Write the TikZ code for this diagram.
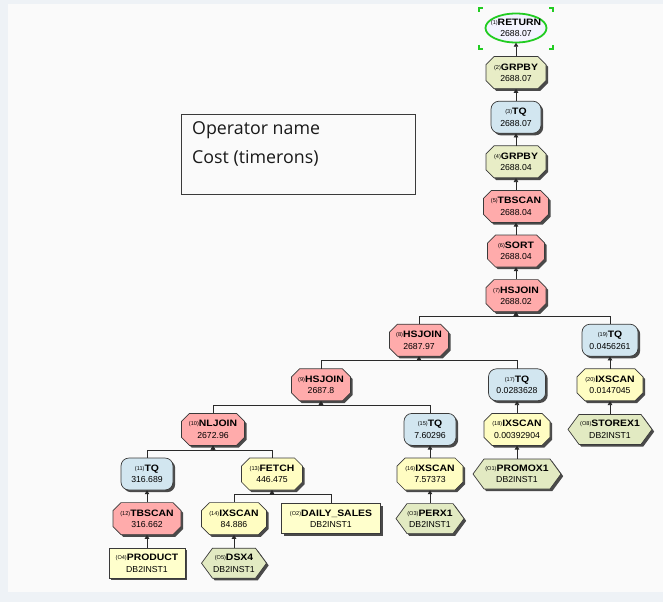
\documentclass[tikz,border=0pt]{standalone}
\usepackage{fontspec}
\usetikzlibrary{arrows.meta}
\newfontfamily\opfam[FakeStretch=1.12]{Liberation Sans}
\newfontfamily\valfam{Liberation Sans}
\newfontfamily\legfam{Open Sans}

\definecolor{pagebg}{HTML}{EEF2F6}
\definecolor{canvas}{HTML}{FAFAFA}
\definecolor{edge}{HTML}{3A3A3A}
\definecolor{shadowc}{HTML}{4A4A4A}
\definecolor{joinfill}{HTML}{FFABAB}
\definecolor{tqfill}{HTML}{D2E6F0}
\definecolor{grpfill}{HTML}{E8EDC6}
\definecolor{scanfill}{HTML}{FFFDC2}
\definecolor{idxfill}{HTML}{E2EAC2}
\definecolor{tblfill}{HTML}{FFFFCC}
\definecolor{retfill}{HTML}{F3F3FF}
\definecolor{selgreen}{HTML}{22CC22}
\definecolor{wire}{HTML}{2A2A2A}

% outlines: options, centre x, centre y, width, height
\newcommand\octshape[5]{\path[#1]
  ({#2-#4/2+8},{#3-#5/2}) -- ({#2+#4/2-8},{#3-#5/2}) -- ({#2+#4/2},{#3-#5/2+8})
  -- ({#2+#4/2},{#3+#5/2-8}) -- ({#2+#4/2-8},{#3+#5/2}) -- ({#2-#4/2+8},{#3+#5/2})
  -- ({#2-#4/2},{#3+#5/2-8}) -- ({#2-#4/2},{#3-#5/2+8}) -- cycle;}
\newcommand\hexshape[5]{\path[#1]
  ({#2-#4/2},{#3}) -- ({#2-#4/2+11},{#3-#5/2}) -- ({#2+#4/2-11},{#3-#5/2})
  -- ({#2+#4/2},{#3}) -- ({#2+#4/2-11},{#3+#5/2}) -- ({#2-#4/2+11},{#3+#5/2}) -- cycle;}
\newcommand\tqshape[5]{\path[#1,rounded corners=8pt]
  ({#2-#4/2},{#3-#5/2}) rectangle ({#2+#4/2},{#3+#5/2});}
\newcommand\tblshape[5]{\path[#1]
  ({#2-#4/2},{#3-#5/2}) rectangle ({#2+#4/2},{#3+#5/2});}

\newcommand\opnum[1]{\raisebox{0.9pt}{\valfam\fontsize{5.6}{5.6}\selectfont(#1)}}
\newcommand\lbl[3]{\opnum{#1}{\opfam\bfseries\fontsize{9.3}{11}\selectfont #2}\\{\valfam\fontsize{8.7}{11}\selectfont #3}}

% operator: kind, fill, name, x, y, width, height, text
\newcommand\op[8]{%
  \csname #1shape\endcsname{fill=shadowc,shift={(2.2,2.2)}}{#4}{#5}{#6}{#7}%
  \csname #1shape\endcsname{fill=#2,draw=edge,line width=0.7pt}{#4}{#5}{#6}{#7}%
  \node[optext,minimum width=#6pt,minimum height=#7pt] (#3) at (#4,#5) {#8};}

\tikzset{
  optext/.style={inner sep=0pt,draw=none,align=center,text=black,
    font=\fontsize{9}{11.5}\selectfont},
  conn/.style={draw=wire,line width=0.75pt,-{Triangle[length=4pt,width=4.5pt]}},
  legendtext/.style={anchor=west,inner sep=0pt,font=\legfam\fontsize{17.8}{17.8}\selectfont,text=black!90}
}

\begin{document}
\begin{tikzpicture}[x=1pt,y=-1pt]
\useasboundingbox (0,0) rectangle (663,602);
\fill[pagebg] (0,0) rectangle (663,602);
\fill[canvas] (8,4) rectangle (663,592);

% legend
\draw[edge,line width=0.8pt] (181.7,114.3) rectangle (415,194.3);
\node[legendtext] (legname) at (192,130) {Operator name};
\node[legendtext] (legcost) at (192,158) {Cost (timerons)};

% RETURN, selected
\draw[fill=retfill,draw=selgreen,line width=1.8pt] (516,28) ellipse [x radius=30.5,y radius=14.5];
\node[optext,minimum width=61pt,minimum height=29pt] (ret) at (516,28) {\lbl{1}{RETURN}{2688.07}};
\begin{scope}[selgreen,line width=1.4pt]
  \draw (479,12) -- (479,8) -- (483,8);
  \draw (549,8) -- (553,8) -- (553,12);
  \draw (479,45) -- (479,49) -- (483,49);
  \draw (549,49) -- (553,49) -- (553,45);
\end{scope}

\op{oct}{grpfill}{grp2}{516}{72.6}{60}{32}{\lbl{2}{GRPBY}{2688.07}}
\op{tq}{tqfill}{tq3}{516}{117.2}{50}{32}{\lbl{3}{TQ}{2688.07}}
\op{oct}{grpfill}{grp4}{516}{161.8}{60}{32}{\lbl{4}{GRPBY}{2688.04}}
\op{oct}{joinfill}{tbs5}{516}{206.4}{65}{32}{\lbl{5}{TBSCAN}{2688.04}}
\op{oct}{joinfill}{sort6}{516}{251}{57}{32}{\lbl{6}{SORT}{2688.04}}
\op{oct}{joinfill}{hsj7}{516}{295.6}{60}{32}{\lbl{7}{HSJOIN}{2688.02}}
\op{oct}{joinfill}{hsj8}{419}{340.2}{59}{32}{\lbl{8}{HSJOIN}{2687.97}}
\op{tq}{tqfill}{tq19}{610}{340.2}{56}{32}{\lbl{19}{TQ}{0.0456261}}
\op{oct}{joinfill}{hsj9}{321}{384.8}{59}{32}{\lbl{9}{HSJOIN}{2687.8}}
\op{tq}{tqfill}{tq17}{517}{384.8}{57}{32}{\lbl{17}{TQ}{0.0283628}}
\op{oct}{scanfill}{ixs20}{610}{384.8}{66}{32}{\lbl{20}{IXSCAN}{0.0147045}}
\op{oct}{joinfill}{nlj10}{213}{429.4}{63}{32}{\lbl{10}{NLJOIN}{2672.96}}
\op{tq}{tqfill}{tq15}{430}{429.4}{52}{32}{\lbl{15}{TQ}{7.60296}}
\op{oct}{scanfill}{ixs18}{517}{429.4}{66}{32}{\lbl{18}{IXSCAN}{0.00392904}}
\op{hex}{idxfill}{storex}{610}{429.4}{84}{30}{\lbl{O8}{STOREX1}{DB2INST1}}
\op{tq}{tqfill}{tq11}{147}{474}{52}{32}{\lbl{11}{TQ}{316.689}}
\op{oct}{scanfill}{fetch}{272}{474}{61}{32}{\lbl{13}{FETCH}{446.475}}
\op{oct}{scanfill}{ixs16}{430}{474}{66}{32}{\lbl{16}{IXSCAN}{7.57373}}
\op{hex}{idxfill}{promox}{517}{474}{88}{30}{\lbl{O1}{PROMOX1}{DB2INST1}}
\op{oct}{joinfill}{tbs12}{147}{518.6}{68}{32}{\lbl{12}{TBSCAN}{316.662}}
\op{oct}{scanfill}{ixs14}{234}{518.6}{65}{32}{\lbl{14}{IXSCAN}{84.886}}
\op{tbl}{tblfill}{daily}{331}{518.6}{99}{30}{\lbl{O2}{DAILY\_SALES}{DB2INST1}}
\op{hex}{idxfill}{perx}{430}{518.6}{68}{30}{\lbl{O3}{PERX1}{DB2INST1}}
\op{tbl}{tblfill}{product}{147}{563.2}{76}{30}{\lbl{O4}{PRODUCT}{DB2INST1}}
\op{hex}{idxfill}{dsx4}{234}{563.2}{65}{30}{\lbl{O5}{DSX4}{DB2INST1}}

% bus points under the joins
\coordinate (b7) at (516,316.1);
\coordinate (b8) at (419,360.7);
\coordinate (b9) at (321,405.3);
\coordinate (b10) at (213,449.9);
\coordinate (b13) at (272,494.5);

% single inputs
\draw[conn] (grp2.north) -- (ret.south);
\draw[conn] (tq3.north) -- (grp2.south);
\draw[conn] (grp4.north) -- (tq3.south);
\draw[conn] (tbs5.north) -- (grp4.south);
\draw[conn] (sort6.north) -- (tbs5.south);
\draw[conn] (hsj7.north) -- (sort6.south);
\draw[conn] (ixs20.north) -- (tq19.south);
\draw[conn] (storex.north) -- (ixs20.south);
\draw[conn] (ixs18.north) -- (tq17.south);
\draw[conn] (promox.north) -- (ixs18.south);
\draw[conn] (ixs16.north) -- (tq15.south);
\draw[conn] (perx.north) -- (ixs16.south);
\draw[conn] (tbs12.north) -- (tq11.south);
\draw[conn] (product.north) -- (tbs12.south);
\draw[conn] (dsx4.north) -- (ixs14.south);

% two inputs joined on a bus
\draw[conn] (hsj8.north) |- (b7) -- (hsj7.south);
\draw[conn] (tq19.north) |- (b7) -- (hsj7.south);
\draw[conn] (hsj9.north) |- (b8) -- (hsj8.south);
\draw[conn] (tq17.north) |- (b8) -- (hsj8.south);
\draw[conn] (nlj10.north) |- (b9) -- (hsj9.south);
\draw[conn] (tq15.north) |- (b9) -- (hsj9.south);
\draw[conn] (tq11.north) |- (b10) -- (nlj10.south);
\draw[conn] (fetch.north) |- (b10) -- (nlj10.south);
\draw[conn] (ixs14.north) |- (b13) -- (fetch.south);
\draw[conn] (daily.north) |- (b13) -- (fetch.south);
\end{tikzpicture}
\end{document}
